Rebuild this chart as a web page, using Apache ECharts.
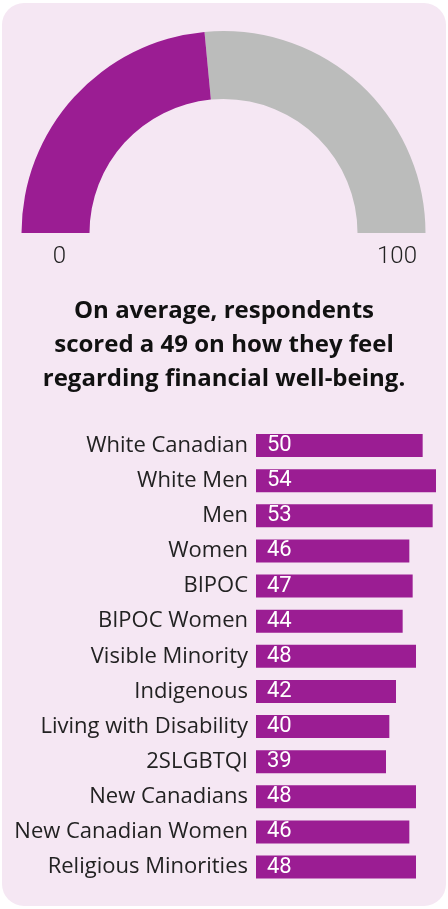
<!DOCTYPE html>
<html><head><meta charset="utf-8">
<script src="https://cdn.jsdelivr.net/npm/echarts@6/dist/echarts.min.js"></script>
<style>
html,body{margin:0;padding:0;background:#fff;width:448px;height:909px;overflow:hidden}
#card{position:absolute;left:2px;top:3px;width:444px;height:903px;border-radius:22px;background:#f5e7f3}
#chart{position:absolute;left:0;top:0;width:448px;height:909px}
</style></head>
<body><div id="card"></div><div id="chart"></div>
<script>
const gaugeValue = 47;
const gaugeMin = 0, gaugeMax = 100;
const headline = ['On average, respondents', 'scored a 49 on how they feel', 'regarding financial well-being.'];
const categories = ['White Canadian','White Men','Men','Women','BIPOC','BIPOC Women','Visible Minority','Indigenous','Living with Disability','2SLGBTQI','New Canadians','New Canadian Women','Religious Minorities'];
const values = [50,54,53,46,47,44,48,42,40,39,48,46,48];

const PURPLE = '#9b1d93', GRAY = '#bbbcbb';
const chart = echarts.init(document.getElementById('chart'), null, {renderer:'canvas'});
chart.setOption({
  backgroundColor: 'transparent',
  animation: false,
  graphic: [
    {type:'text', x:59.5, y:257, style:{text:String(gaugeMin), align:'center', verticalAlign:'middle',
      font:'300 24px Roboto', fill:'#222'}},
    {type:'text', x:397, y:257, style:{text:String(gaugeMax), align:'center', verticalAlign:'middle',
      font:'300 24px Roboto', fill:'#222'}},
    {type:'text', x:224, y:345, style:{text:headline.join('\n'), align:'center', verticalAlign:'middle',
      font:'bold 24px "Open Sans"', lineHeight:34, fill:'#111'}}
  ],
  grid: {left:256, width:190, top:428, height:456.6, containLabel:false},
  xAxis: {type:'value', min:0, max:57, show:false},
  yAxis: {type:'category', data:categories, inverse:true,
    axisLine:{show:false}, axisTick:{show:false}, splitLine:{show:false},
    axisLabel:{margin:8, fontFamily:'Open Sans', fontSize:22, color:'#222'}},
  series: [
    {type:'gauge', center:[223.5,233], radius:202, startAngle:180, endAngle:0,
     min:gaugeMin, max:gaugeMax,
     axisLine:{lineStyle:{width:68, color:[[ (gaugeValue-gaugeMin)/(gaugeMax-gaugeMin), PURPLE],[1, GRAY]]}},
     pointer:{show:false}, axisTick:{show:false}, splitLine:{show:false}, axisLabel:{show:false},
     detail:{show:false}, title:{show:false}, data:[{value:gaugeValue}]},
    {type:'bar', data:values, barWidth:23, itemStyle:{color:PURPLE},
     label:{show:true, position:'insideLeft', distance:11, color:'#fff', fontFamily:'Roboto', fontSize:22}}
  ]
});
</script></body></html>
